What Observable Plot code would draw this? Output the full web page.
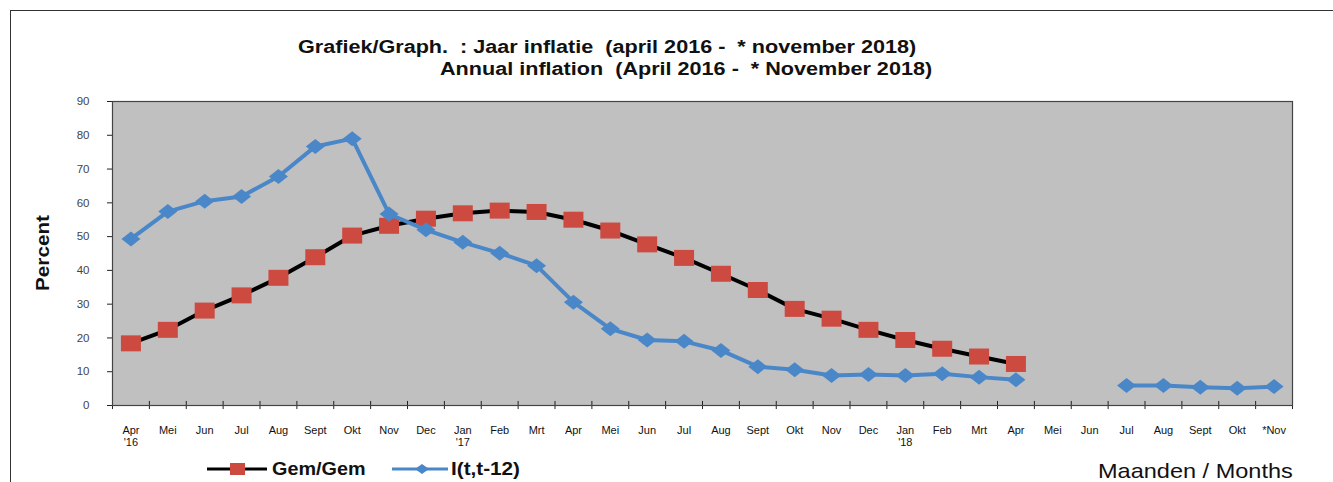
<!DOCTYPE html>
<html>
<head>
<meta charset="utf-8">
<script src="https://cdn.jsdelivr.net/npm/d3@7"></script>
<script src="https://cdn.jsdelivr.net/npm/@observablehq/plot@0.6"></script>
<style>
  html, body { margin: 0; padding: 0; background: #fff; }
  body { width: 1333px; height: 482px; position: relative; overflow: hidden; font-family: "Liberation Sans", Arial, sans-serif; }
  .border { position: absolute; left: 10px; top: 10px; width: 1400px; height: 500px; border-left: 1.5px solid #333; border-top: 1.5px solid #333; }
  .t { position: absolute; white-space: pre; font-weight: bold; font-size: 18px; line-height: 20px; color: #111; transform-origin: 0 50%; transform: scaleX(1.2); }
  #chart { position: absolute; left: 0; top: 85px; }
  .ylab { position: absolute; left: 43px; top: 253px; transform: translate(-50%, -50%) rotate(-90deg) scaleX(1.15); font-weight: bold; font-size: 18px; line-height: 20px; color: #111; white-space: pre; }
  .months { position: absolute; left: 1098px; top: 461px; font-size: 21px; line-height: 20px; color: #111; white-space: pre; transform-origin: 0 50%; transform: scaleX(1.12); }
  .leg { position: absolute; top: 459px; display: flex; align-items: center; font-weight: bold; font-size: 18px; line-height: 20px; color: #111; }
  .leg span { display: inline-block; transform-origin: 0 50%; transform: scaleX(1.1); white-space: pre; }
</style>
</head>
<body>
<div class="border"></div>
<div class="t" style="left:298px; top:37px;">Grafiek/Graph.  : Jaar inflatie  (april 2016 -  * november 2018)</div>
<div class="t" style="left:440px; top:59px;">Annual inflation  (April 2016 -  * November 2018)</div>
<div class="ylab">Percent</div>
<div id="chart"></div>
<div class="leg" style="left:207px;">
  <svg width="60" height="20"><line x1="0" y1="10" x2="60" y2="10" stroke="#000" stroke-width="3"/><rect x="23" y="4" width="15" height="12" fill="#cd4a40"/></svg>
  <span style="margin-left:5px;">Gem/Gem</span>
</div>
<div class="leg" style="left:392px;">
  <svg width="56" height="20"><line x1="0" y1="10" x2="56" y2="10" stroke="#4a87c9" stroke-width="3"/><path d="M30,5 L37,10 L30,15 L23,10 Z" fill="#4a87c9"/></svg>
  <span style="margin-left:3px; transform: scaleX(1.15);">I(t,t-12)</span>
</div>
<div class="months">Maanden / Months</div>
<script>
const months = ["Apr","Mei","Jun","Jul","Aug","Sept","Okt","Nov","Dec","Jan","Feb","Mrt",
                "Apr","Mei","Jun","Jul","Aug","Sept","Okt","Nov","Dec","Jan","Feb","Mrt",
                "Apr","Mei","Jun","Jul","Aug","Sept","Okt","*Nov"];
const yearLabels = {0: "'16", 9: "'17", 21: "'18"};
const gemGem = [18.4,22.4,28.1,32.6,37.8,43.9,50.3,53.2,55.3,56.9,57.7,57.3,
                55.0,51.8,47.7,43.7,39.0,34.2,28.6,25.7,22.4,19.4,16.8,14.5,
                12.3,null,null,null,null,null,null,null];
const inflT12 = [49.3,57.4,60.5,61.9,67.8,76.7,79.0,56.7,52.0,48.3,45.1,41.4,
                 30.6,22.7,19.4,19.0,16.3,11.5,10.6,8.9,9.2,8.9,9.4,8.4,
                 7.6,null,null,5.9,5.9,5.4,5.1,5.6];
const yTicks = [0,10,20,30,40,50,60,70,80,90];

const gemData = months.map((m, i) => ({i, v: gemGem[i]}));
const inflData = months.map((m, i) => ({i, v: inflT12[i]}));
const boundaries = d3.range(months.length + 1).map(k => k - 0.5);

function rectSymbol(w, h) {
  return { draw(ctx) { ctx.moveTo(-w/2,-h/2); ctx.lineTo(w/2,-h/2); ctx.lineTo(w/2,h/2); ctx.lineTo(-w/2,h/2); ctx.closePath(); } };
}
function diamondSymbol(w, h) {
  return { draw(ctx) { ctx.moveTo(0,-h/2); ctx.lineTo(w/2,0); ctx.lineTo(0,h/2); ctx.lineTo(-w/2,0); ctx.closePath(); } };
}

const plot = Plot.plot({
  width: 1333,
  height: 370,
  marginTop: 16,
  marginBottom: 50,
  marginLeft: 112,
  marginRight: 41,
  style: { fontFamily: "Liberation Sans, Arial, sans-serif", background: "transparent", overflow: "visible" },
  x: { type: "linear", domain: [-0.5, months.length - 0.5], axis: null },
  y: { domain: [0, 90], axis: null },
  marks: [
    Plot.frame({ fill: "#c0c0c0", stroke: "none" }),
    Plot.axisY({ ticks: yTicks, tickSize: 5, tickPadding: 18, fontSize: 11.5, color: "#444", tickFormat: d => d, stroke: "#222", label: null }),
    Plot.axisX({ ticks: d3.range(months.length), tickSize: 0, tickPadding: 20, fontSize: 11, lineAnchor: "top", lineHeight: 1.1, color: "#111", label: null,
                 tickFormat: i => months[i] + (yearLabels[i] ? "\n" + yearLabels[i] : "") }),
    Plot.ruleX(boundaries, { x: d => d, y1: -1.2, y2: 1.2, stroke: "#222", strokeWidth: 1 }),
    Plot.line(gemData, { x: "i", y: "v", stroke: "#000", strokeWidth: 4 }),
    Plot.dot(gemData.filter(d => d.v != null), { x: "i", y: "v", symbol: rectSymbol(20, 16), r: 5, fill: "#cd4a40", stroke: null }),
    Plot.line(inflData, { x: "i", y: "v", stroke: "#4a87c9", strokeWidth: 4 }),
    Plot.dot(inflData.filter(d => d.v != null), { x: "i", y: "v", symbol: diamondSymbol(19, 15), r: 5, fill: "#4a87c9", stroke: null }),
    Plot.frame({ stroke: "#444", strokeWidth: 1.2 })
  ]
});
document.getElementById("chart").appendChild(plot);
</script>
</body>
</html>
